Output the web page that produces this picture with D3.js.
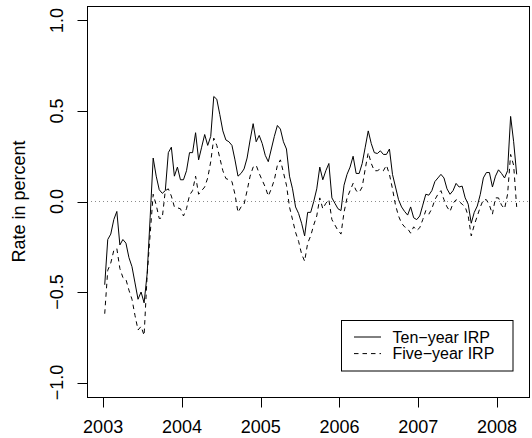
<!DOCTYPE html>
<html>
<head>
<meta charset="utf-8">
<script src="https://cdn.jsdelivr.net/npm/d3@7"></script>
<style>
  html, body { margin: 0; padding: 0; background: #fff; }
  svg { display: block; }
  text { font-family: "Liberation Sans", Arial, Helvetica, sans-serif; fill: #000; }
</style>
</head>
<body>
<svg id="chart" width="532" height="438"></svg>
<script>
// ---- data (biweekly observations, rate in percent) ----
const startYear = 2003.02;
const stepYears = 1 / 26;

const tenYear = [
  -0.46, -0.21, -0.18, -0.10, -0.055, -0.24, -0.21, -0.23, -0.31, -0.36,
  -0.45, -0.54, -0.50, -0.56, -0.40, -0.09, 0.24, 0.14, 0.065, 0.045,
  0.06, 0.27, 0.30, 0.14, 0.19, 0.12, 0.12, 0.17, 0.27, 0.27,
  0.38, 0.23, 0.30, 0.37, 0.31, 0.36, 0.58, 0.565, 0.48, 0.39,
  0.34, 0.33, 0.31, 0.23, 0.14, 0.155, 0.18, 0.24, 0.34, 0.43,
  0.33, 0.365, 0.32, 0.255, 0.22, 0.29, 0.36, 0.42, 0.40, 0.33,
  0.29, 0.14, 0.07, -0.03, -0.066, -0.12, -0.19, -0.06, -0.06, 0.0,
  0.07, 0.19, 0.12, 0.17, 0.21, 0.02, -0.01, -0.04, -0.05, 0.09,
  0.15, 0.19, 0.25, 0.155, 0.155, 0.21, 0.30, 0.39, 0.32, 0.27,
  0.265, 0.28, 0.26, 0.26, 0.29, 0.15, 0.08, 0.01, -0.03, -0.055,
  -0.075, -0.03, -0.09, -0.10, -0.08, -0.02, 0.04, 0.035, 0.06, 0.11,
  0.13, 0.15, 0.13, 0.07, 0.04, 0.06, 0.10, 0.08, 0.085, 0.02,
  -0.015, -0.12, -0.06, -0.025, 0.04, 0.13, 0.16, 0.16, 0.08, 0.14,
  0.175, 0.155, 0.13, 0.17, 0.47, 0.33, 0.15
];

const fiveYear = [
  -0.62, -0.38, -0.34, -0.27, -0.26, -0.37, -0.42, -0.43, -0.49, -0.54,
  -0.63, -0.71, -0.69, -0.74, -0.41, -0.18, 0.04, -0.02, -0.094, -0.09,
  0.06, 0.07, 0.03, -0.03, -0.035, -0.04, -0.08, -0.04, 0.035, 0.06,
  0.14, 0.04, 0.06, 0.08, 0.13, 0.22, 0.35, 0.31, 0.24, 0.17,
  0.127, 0.12, 0.11, 0.04, -0.06, -0.03, -0.015, 0.06, 0.14, 0.19,
  0.20, 0.155, 0.117, 0.08, 0.03, 0.07, 0.12, 0.20, 0.23, 0.16,
  0.09, -0.03, -0.10, -0.17, -0.22, -0.29, -0.33, -0.23, -0.19, -0.13,
  -0.08, 0.02, -0.04, -0.01, 0.01, -0.10, -0.13, -0.16, -0.18, -0.06,
  0.02, 0.06, 0.10, 0.06, 0.05, 0.08, 0.18, 0.27, 0.21, 0.17,
  0.17, 0.18, 0.17, 0.20, 0.15, 0.07, -0.02, -0.08, -0.12, -0.14,
  -0.15, -0.175, -0.14, -0.16, -0.145, -0.10, -0.05, -0.07, -0.04, 0.01,
  0.04, 0.06, 0.01, -0.03, -0.055, -0.01, 0.01, 0.0, -0.015, -0.03,
  -0.08, -0.19, -0.13, -0.08, -0.03, 0.01, 0.01, -0.02, -0.07, 0.02,
  0.02, -0.02, -0.04, 0.04, 0.26, 0.20, -0.03
];

const xTicks = [2003, 2004, 2005, 2006, 2007, 2008];
const yTicks = [-1.0, -0.5, 0.0, 0.5, 1.0];
const seriesNames = ["Ten\u2212year IRP", "Five\u2212year IRP"];
const yLabel = "Rate in percent";

// ---- layout ----
const svg = d3.select("#chart");
const L = 87, R = 530, T = 6, B = 397;

const x = d3.scaleLinear().domain([2002.795, 2008.42]).range([L, R]);
const y = d3.scaleLinear().domain([-1.08, 1.08]).range([B, T]);

const fmtY = v => d3.format(".1f")(v).replace("-", "\u2212");

// zero reference line
svg.append("line")
  .attr("x1", L).attr("x2", R)
  .attr("y1", y(0)).attr("y2", y(0))
  .attr("stroke", "#8c8c8c").attr("stroke-width", 1)
  .attr("stroke-dasharray", "1,3");

// series
const dates = tenYear.map((_, i) => startYear + i * stepYears);
const line = d3.line().x(d => x(d[0])).y(d => y(d[1]));

svg.append("path")
  .datum(dates.map((t, i) => [t, fiveYear[i]]))
  .attr("d", line)
  .attr("fill", "none").attr("stroke", "#000").attr("stroke-width", 1)
  .attr("stroke-dasharray", "4.5,4");

svg.append("path")
  .datum(dates.map((t, i) => [t, tenYear[i]]))
  .attr("d", line)
  .attr("fill", "none").attr("stroke", "#000").attr("stroke-width", 1);

// box
svg.append("rect")
  .attr("x", L + 0.5).attr("y", T + 0.5)
  .attr("width", R - L - 1).attr("height", B - T)
  .attr("fill", "none").attr("stroke", "#000").attr("stroke-width", 1);

// x axis
const gx = svg.append("g").attr("transform", `translate(0,${B + 0.5})`);
gx.selectAll("line").data(xTicks).enter().append("line")
  .attr("x1", d => Math.round(x(d)) + 0.5).attr("x2", d => Math.round(x(d)) + 0.5)
  .attr("y1", 0).attr("y2", 10)
  .attr("stroke", "#000");
gx.selectAll("text").data(xTicks).enter().append("text")
  .attr("x", d => x(d)).attr("y", 35.5)
  .attr("text-anchor", "middle")
  .style("font-size", "18px")
  .text(d => d);

// y axis
const gy = svg.append("g").attr("transform", `translate(${L + 0.5},0)`);
gy.selectAll("line").data(yTicks).enter().append("line")
  .attr("x1", 0).attr("x2", -10)
  .attr("y1", d => Math.round(y(d)) + 0.5).attr("y2", d => Math.round(y(d)) + 0.5)
  .attr("stroke", "#000");
gy.selectAll("text").data(yTicks).enter().append("text")
  .attr("transform", d => `translate(-24.5,${y(d)}) rotate(-90)`)
  .attr("text-anchor", "middle")
  .style("font-size", "18px")
  .text(fmtY);

// y label
svg.append("text")
  .attr("transform", `translate(24.5,${(T + B) / 2}) rotate(-90)`)
  .attr("text-anchor", "middle")
  .style("font-size", "18px")
  .text(yLabel);

// legend
const lg = svg.append("g");
lg.append("rect")
  .attr("x", 341.5).attr("y", 320.5).attr("width", 171.5).attr("height", 50.5)
  .attr("fill", "#fff").attr("stroke", "#000");
const dashes = [null, "4.5,4"];
seriesNames.forEach((name, i) => {
  const cy = 337 + i * 16.6;
  lg.append("line")
    .attr("x1", 354).attr("x2", 381)
    .attr("y1", cy).attr("y2", cy)
    .attr("stroke", "#000")
    .attr("stroke-dasharray", dashes[i]);
  lg.append("text")
    .attr("x", 392.5).attr("y", cy + 5.7)
    .style("font-size", "16px")
    .text(name);
});
</script>
</body>
</html>
